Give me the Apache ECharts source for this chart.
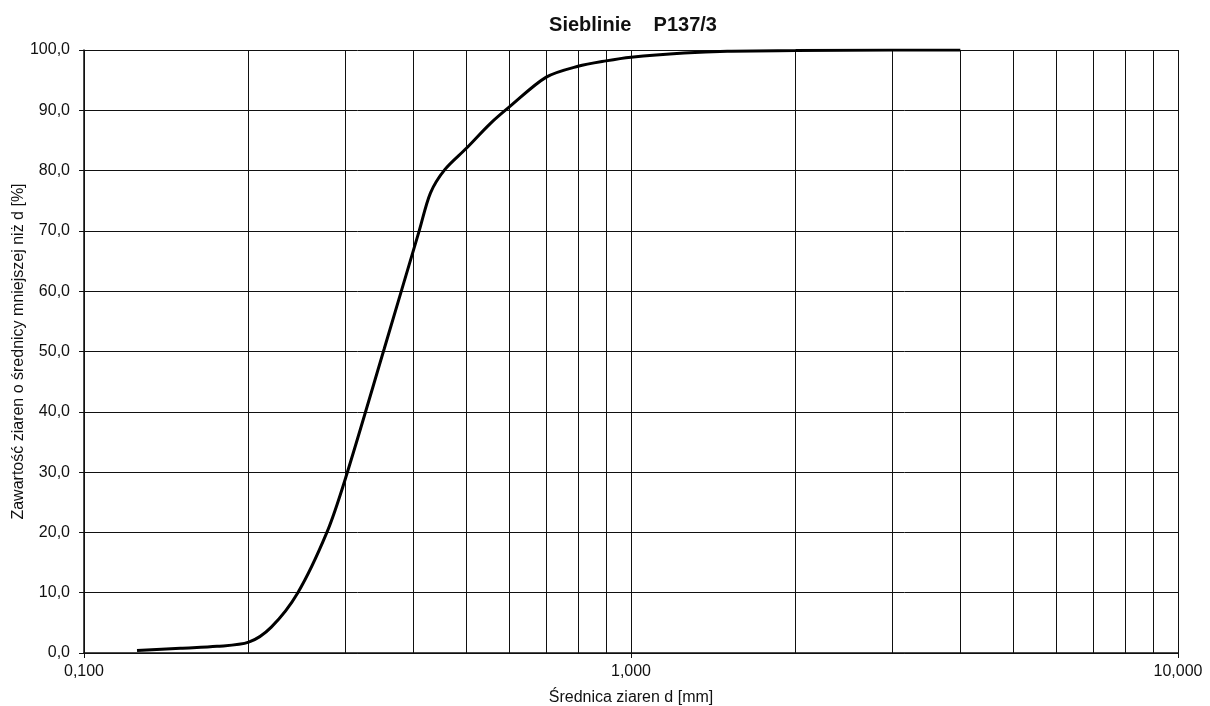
<!DOCTYPE html>
<html>
<head>
<meta charset="utf-8">
<script src="https://cdn.jsdelivr.net/npm/echarts@6/dist/echarts.min.js"></script>
<style>html,body{margin:0;padding:0;background:#fff;}#c{width:1210px;height:706px;}</style>
</head>
<body>
<div id="c"></div>
<script>
// Grain diameter d [mm] and cumulative passing [%]
var diameters = [0.125, 0.15, 0.175, 0.2, 0.22, 0.246, 0.278, 0.3, 0.354, 0.41, 0.43, 0.457, 0.5, 0.553, 0.6, 0.7, 0.8, 0.9, 1.0, 1.25, 1.5, 2.0, 3.0, 4.0];
var passing   = [0.4,   0.8,  1.1,   1.8, 4.3,  10,    20,    28.7, 50.5,  70,   76.3, 80.2,  83.7, 87.8,  90.6, 95.5, 97.3, 98.2, 98.8, 99.5, 99.8, 99.9, 100, 100];
// Minor grid lines (log scale)
var minorGrid = [0.2, 0.3, 0.4, 0.5, 0.6, 0.7, 0.8, 0.9, 2, 3, 4, 5, 6, 7, 8, 9];
var yTicks = { min: 0, max: 100, interval: 10 };
var xRange = { min: 0.1, max: 10 };
var titleText = 'Sieblinie    P137/3';
var xName = 'Średnica ziaren d [mm]';
var yName = 'Zawartość ziaren o średnicy mniejszej niż d [%]';

var chart = echarts.init(document.getElementById('c'));
var font = 'Liberation Sans, Arial, sans-serif';
chart.setOption({
  backgroundColor: '#fff',
  animation: false,
  title: {
    text: titleText, left: 628, top: 10, textAlign: 'center',
    textStyle: { fontFamily: font, fontSize: 20, fontWeight: 'bold', color: '#111' }
  },
  grid: { left: 84, right: 32, top: 50, bottom: 53, containLabel: false, outerBoundsMode: 'none' },
  xAxis: {
    type: 'log', logBase: 10, min: xRange.min, max: xRange.max,
    name: xName, nameLocation: 'middle', nameGap: 37, nameMoveOverlap: false,
    nameTextStyle: { fontFamily: font, fontSize: 16, color: '#111' },
    axisLine: { show: true, lineStyle: { color: '#111', width: 1.5 } },
    axisTick: { show: true, length: 5, lineStyle: { color: '#111' } },
    axisLabel: {
      fontFamily: font, fontSize: 16, color: '#111', margin: 11,
      formatter: function (v) { return Number(v).toFixed(3).replace('.', ','); }
    },
    splitLine: { show: true, lineStyle: { color: '#111', width: 1 } },
    minorTick: { show: false }, minorSplitLine: { show: false }
  },
  yAxis: {
    type: 'value', min: yTicks.min, max: yTicks.max, interval: yTicks.interval,
    name: yName, nameLocation: 'middle', nameGap: 57, nameRotate: 90, nameMoveOverlap: false,
    nameTextStyle: { fontFamily: font, fontSize: 16, color: '#111' },
    axisLine: { show: true, lineStyle: { color: '#111', width: 1.5 } },
    axisTick: { show: true, length: 5, lineStyle: { color: '#111' } },
    axisLabel: {
      fontFamily: font, fontSize: 16, color: '#111', margin: 14,
      formatter: function (v) { return Number(v).toFixed(1).replace('.', ','); }
    },
    splitLine: { show: true, lineStyle: { color: '#111', width: 1 } }
  },
  series: [{
    type: 'line',
    data: diameters.map(function (d, i) { return [d, passing[i]]; }),
    smooth: 0.3,
    showSymbol: false,
    lineStyle: { color: '#000', width: 3 },
    markLine: {
      silent: true, symbol: 'none', animation: false,
      label: { show: false },
      lineStyle: { color: '#111', width: 1, type: 'solid' },
      data: minorGrid.map(function (v) { return { xAxis: v }; })
    },
    z: 5
  }]
});
</script>
</body>
</html>
